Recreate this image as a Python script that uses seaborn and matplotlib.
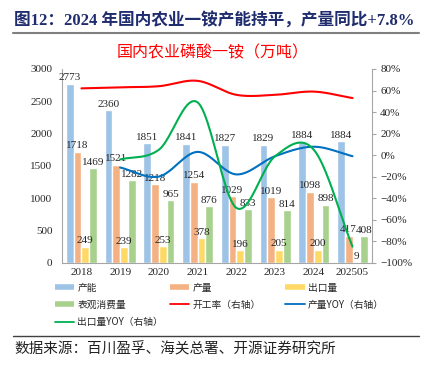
import numpy as np
import pandas as pd
import matplotlib
matplotlib.use('Agg')
import matplotlib.pyplot as plt
import seaborn as sns
from matplotlib.lines import Line2D
from matplotlib.ticker import PercentFormatter

years = ['2018', '2019', '2020', '2021', '2022', '2023', '2024', '202505']
capacity = [2773, 2360, 1851, 1841, 1827, 1829, 1884, 1884]
output = [1718, 1521, 1218, 1254, 1029, 1019, 1098, 417]
export = [249, 239, 253, 378, 196, 205, 200, 9]
consumption = [1469, 1282, 965, 876, 833, 814, 898, 408]

# right axis, %
util_rate = [62, 63, 64, 69, 56, 56, 59, 53]
output_yoy = [-11.5, -19.9, 3.0, -17.9, -1.0, 7.8, -1.0]      # from 2019
export_yoy = [-4.0, 5.0, 49.0, -49.0, -1.0, 5.0, -85.0]       # from 2019

bar_names = ['产能', '产量', '出口量', '表观消费量']
bar_colors = ['#9DC3E6', '#F4B183', '#FFD966', '#A9D18E']
line_names = ['开工率（右轴）', '产量YOY（右轴）', '出口量YOY（右轴）']
line_colors = ['#FF0000', '#0070C0', '#00B050']

serif = ['Liberation Serif', 'Noto Sans CJK SC']
cjk = ['Noto Sans CJK SC', 'Liberation Serif']

sns.set_style('white')
plt.rcParams['font.family'] = serif


def smooth(x, y, n=24):
    # Catmull-Rom curve through the points, like Excel's smoothed line
    x = np.asarray(x, float)
    y = np.asarray(y, float)
    px = np.concatenate([[2 * x[0] - x[1]], x, [2 * x[-1] - x[-2]]])
    py = np.concatenate([[2 * y[0] - y[1]], y, [2 * y[-1] - y[-2]]])
    xs, ys = [], []
    t = np.linspace(0, 1, n)
    for i in range(1, len(px) - 2):
        for p, out in ((px, xs), (py, ys)):
            p0, p1, p2, p3 = p[i - 1], p[i], p[i + 1], p[i + 2]
            out.extend(0.5 * (2 * p1 + (-p0 + p2) * t
                              + (2 * p0 - 5 * p1 + 4 * p2 - p3) * t ** 2
                              + (-p0 + 3 * p1 - 3 * p2 + p3) * t ** 3))
    return xs, ys


df = pd.DataFrame({
    'year': years * 4,
    'series': sum([[n] * len(years) for n in bar_names], []),
    'value': capacity + output + export + consumption,
})

fig = plt.figure(figsize=(4.25, 3.65), dpi=100)
ax = fig.add_axes([0.146, 0.280, 0.729, 0.531])

sns.barplot(data=df, x='year', y='value', hue='series', palette=bar_colors,
            width=0.8, ax=ax, legend=False, saturation=1)
for cont in ax.containers:
    ax.bar_label(cont, fontsize=8, padding=1, family=serif)

ax.set_ylim(0, 3000)
ax.set_yticks(range(0, 3001, 500))
ax.set_xlabel('')
ax.set_ylabel('')
ax.tick_params(axis='y', labelsize=8, length=0, pad=7)
ax.tick_params(axis='x', labelsize=8, length=0, pad=4)
for s in ['top', 'right']:
    ax.spines[s].set_visible(False)
for s in ['left', 'bottom']:
    ax.spines[s].set_color('#A6A6A6')

ax2 = ax.twinx()
xi = np.arange(len(years))
for vals, col, start in ((util_rate, line_colors[0], 0),
                         (output_yoy, line_colors[1], 1),
                         (export_yoy, line_colors[2], 1)):
    sx, sy = smooth(xi[start:], vals)
    ax2.plot(sx, sy, color=col, lw=1.5)
ax2.set_ylim(-100, 80)
ax2.set_yticks(range(-100, 81, 20))
ax2.yaxis.set_major_formatter(PercentFormatter(decimals=0))
ax2.tick_params(axis='y', labelsize=8, length=3, color='#A6A6A6', pad=3)
for s in ['top', 'left', 'bottom']:
    ax2.spines[s].set_visible(False)
ax2.spines['right'].set_color('#A6A6A6')
ax.set_xlim(-0.5, len(years) - 0.5)

# legend: three columns, filled row by row
bar_handles = [Line2D([], [], color=c, lw=4, solid_capstyle='butt') for c in bar_colors]
line_handles = [Line2D([], [], color=c, lw=1.3) for c in line_colors]
handles = bar_handles + line_handles
labels = bar_names + line_names
for col, x0 in enumerate([0.129, 0.40, 0.671]):
    idx = list(range(col, len(labels), 3))
    fig.legend([handles[i] for i in idx], [labels[i] for i in idx],
               loc='upper left', bbox_to_anchor=(x0, 0.226),
               bbox_transform=fig.transFigure, frameon=False,
               prop={'family': cjk, 'size': 7}, handlelength=2.0,
               handletextpad=0.3, labelspacing=0.75, borderpad=0,
               borderaxespad=0)

fig.text(0.033, 0.942, '图12：2024 年国内农业一铵产能持平，产量同比+7.8%',
         fontsize=12, fontweight='bold', color='#1F2C6E', family=serif,
         va='center')
fig.add_artist(Line2D([0.03, 0.985], [0.91, 0.91], color='#7F7F7F', lw=1.5,
                      transform=fig.transFigure))
fig.text(0.5, 0.855, '国内农业磷酸一铵（万吨）', fontsize=11.5, color='#FF0000',
         family=cjk, ha='center', va='center')
fig.add_artist(Line2D([0.03, 0.985], [0.08, 0.08], color='#404040', lw=1.0,
                      transform=fig.transFigure))
fig.text(0.033, 0.044, '数据来源：百川盈孚、海关总署、开源证券研究所', fontsize=10.5,
         color='#222222', family=cjk, va='center')

fig.savefig('out.png', dpi=100)
